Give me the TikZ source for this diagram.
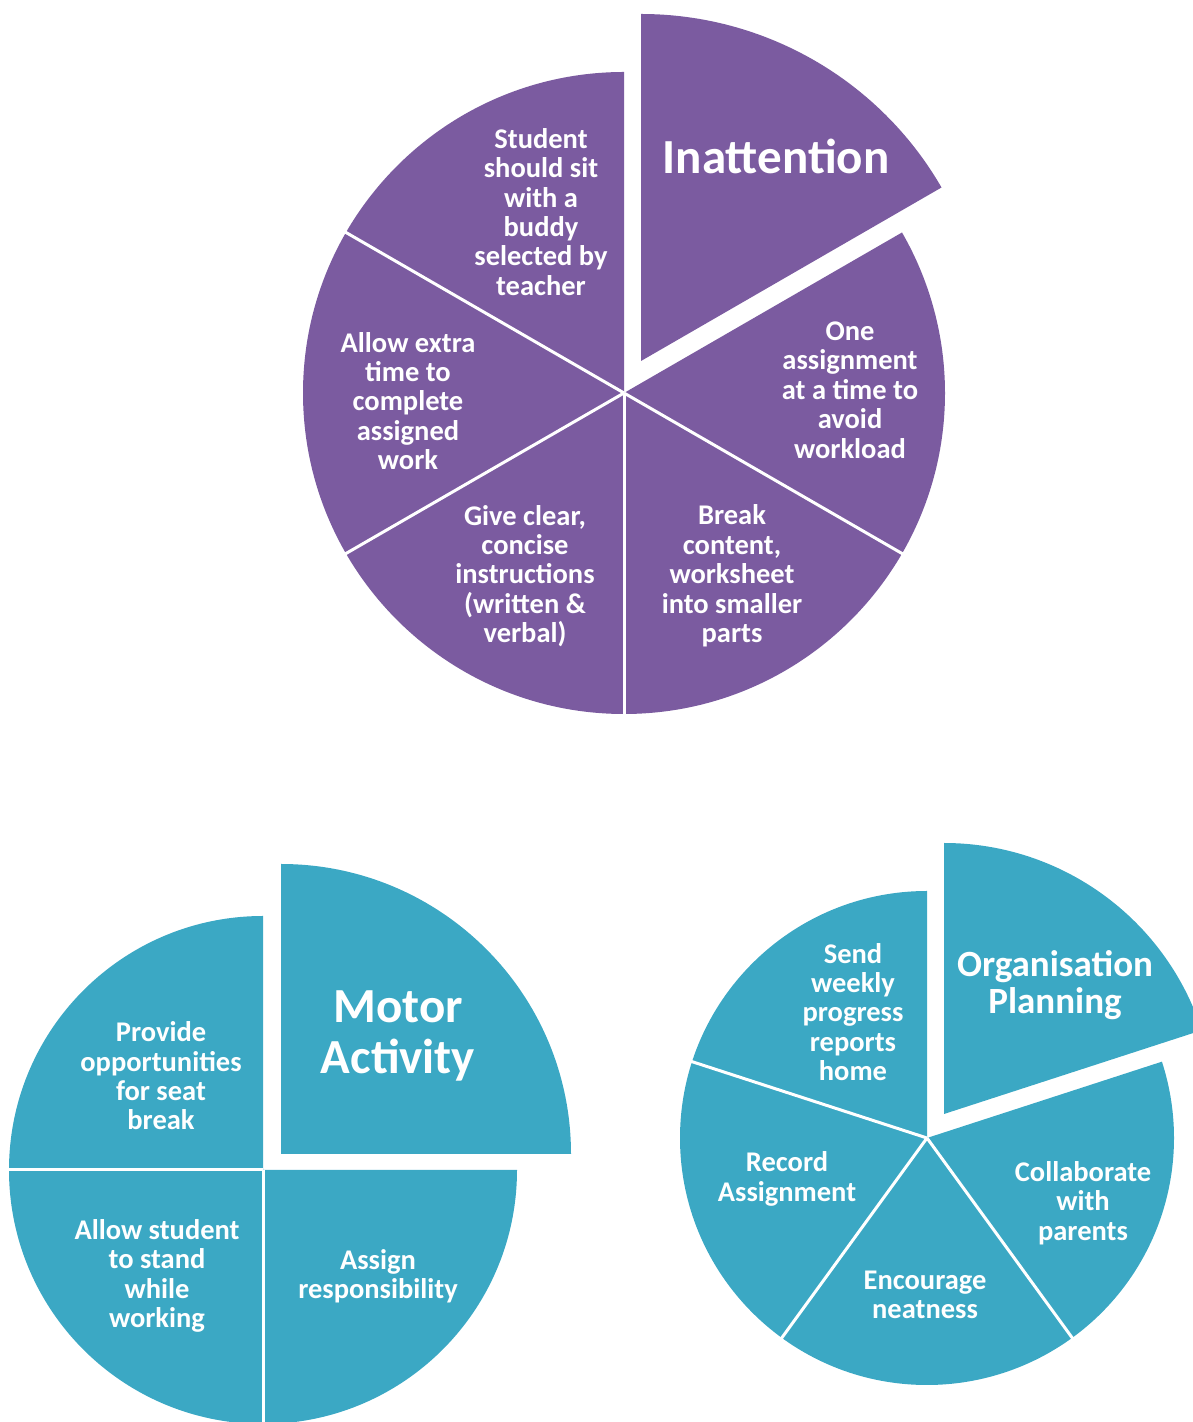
\documentclass[tikz,border=0pt]{standalone}
\usepackage{fontspec}
\setmainfont{Carlito}
\definecolor{purp}{HTML}{7B5BA0}
\definecolor{tealb}{HTML}{3BA8C4}
\begin{document}
\begin{tikzpicture}[x=1pt,y=1pt,
  body/.style={text=white, font=\bfseries\fontsize{28.5}{29.4}\selectfont, align=center, inner sep=0pt},
  bigtitle/.style={text=white, font=\bfseries\fontsize{49}{51}\selectfont, align=center, inner sep=0pt},
  midtitle/.style={text=white, font=\bfseries\fontsize{37}{37.5}\selectfont, align=center, inner sep=0pt},
  divider/.style={draw=white, line width=3pt}]
\useasboundingbox (0,0) rectangle (1193,1422);
\begin{scope}
\clip (0,0) rectangle (1193,1422);
% ---------- Inattention pie ----------
\fill[purp] (624,1029) -- ++(90:321) arc[start angle=90, end angle=390, radius=321] -- cycle;
\fill[purp] (641,1061) -- ++(30:347) arc[start angle=30, end angle=90, radius=347] -- cycle;
\foreach \a in {150,210,270,330} \draw[divider] (624,1029) -- ++(\a:323);
% ---------- Motor Activity pie ----------
\fill[tealb] (263,252) -- ++(90:254) arc[start angle=90, end angle=360, radius=254] -- cycle;
\fill[tealb] (281,268) -- ++(0:290) arc[start angle=0, end angle=90, radius=290] -- cycle;
\foreach \a in {180,270} \draw[divider] (263,252) -- ++(\a:256);
% ---------- Organisation Planning pie ----------
\fill[tealb] (927,284) -- ++(90:247) arc[start angle=90, end angle=378, radius=247] -- cycle;
\fill[tealb] (944,308) -- ++(18:271) arc[start angle=18, end angle=90, radius=271] -- cycle;
\foreach \a in {162,234,306} \draw[divider] (927,284) -- ++(\a:249);
\end{scope}
% ---------- texts ----------
\node[bigtitle] (inatt) at (776,1266) {Inattention};
\node[body] (buddy) at (541,1210) {Student\\should sit\\with a\\buddy\\selected by\\teacher};
\node[body] (onea) at (850,1032) {One\\assignment\\at a time to\\avoid\\workload};
\node[body] (brk) at (732,846) {Break\\content,\\worksheet\\into smaller\\parts};
\node[body] (give) at (525,846) {Give clear,\\concise\\instructions\\(written \&\\verbal)};
\node[body] (extra) at (408,1021) {Allow extra\\time to\\complete\\assigned\\work};
\node[bigtitle] (motor) at (398,386) {Motor\\Activity};
\node[body] (seat) at (161,346) {Provide\\opportunities\\for seat\\break};
\node[body] (stand) at (157,146) {Allow student\\to stand\\while\\working};
\node[body] (resp) at (378,146) {Assign\\responsibility};
\node[midtitle] (org) at (1055,437) {Organisation\\Planning};
\node[body] (send) at (853,410) {Send\\weekly\\progress\\reports\\home};
\node[body] (rec) at (787,243) {Record\\Assignment};
\node[body] (collab) at (1083,219) {Collaborate\\with\\parents};
\node[body] (neat) at (925,127) {Encourage\\neatness};
\end{tikzpicture}
\end{document}
